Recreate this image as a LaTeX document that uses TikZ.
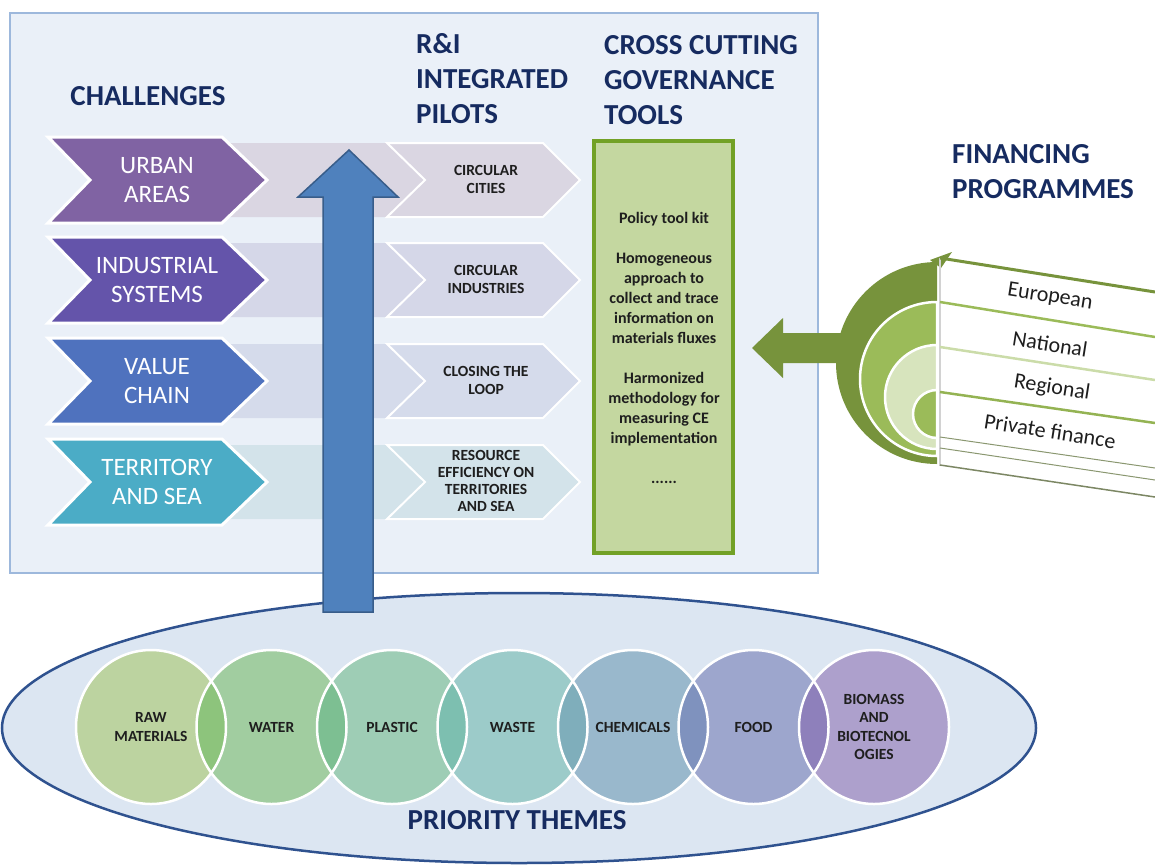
\documentclass[tikz,border=0pt]{standalone}
\usepackage{fontspec}
\setmainfont{Carlito}
\usepackage{xcolor}
\usepackage{tikz}
\definecolor{navy}{RGB}{22,43,96}
\definecolor{boxfill}{RGB}{234,240,248}
\definecolor{boxline}{RGB}{157,184,220}
\definecolor{chal1}{RGB}{128,99,163}
\definecolor{chal2}{RGB}{100,84,170}
\definecolor{chal3}{RGB}{79,114,190}
\definecolor{chal4}{RGB}{75,172,198}
\definecolor{pil1}{RGB}{218,214,226}
\definecolor{pil2}{RGB}{213,215,232}
\definecolor{pil3}{RGB}{213,219,235}
\definecolor{pil4}{RGB}{211,227,234}
\definecolor{blueup}{RGB}{79,129,189}
\definecolor{blueedge}{RGB}{56,93,138}
\definecolor{toolfill}{RGB}{196,215,160}
\definecolor{toolline}{RGB}{114,161,38}
\definecolor{findark}{RGB}{119,147,60}
\definecolor{finmid}{RGB}{155,187,89}
\definecolor{finlight}{RGB}{215,228,189}
\definecolor{themefill}{RGB}{220,230,242}
\definecolor{themeline}{RGB}{47,82,143}
\definecolor{raw}{RGB}{188,211,160}
\definecolor{water}{RGB}{161,205,160}
\definecolor{plastic}{RGB}{158,205,181}
\definecolor{waste}{RGB}{156,203,201}
\definecolor{chem}{RGB}{153,184,204}
\definecolor{food}{RGB}{157,166,205}
\definecolor{bio}{RGB}{173,160,204}
\definecolor{lensa}{RGB}{141,196,124}
\definecolor{lensb}{RGB}{125,191,146}
\definecolor{lensc}{RGB}{125,191,176}
\definecolor{lensd}{RGB}{127,174,187}
\definecolor{lense}{RGB}{127,146,190}
\definecolor{lensf}{RGB}{142,128,187}
\definecolor{darktext}{RGB}{30,30,30}
\tikzstyle{title} = [text=navy, font=\bfseries\fontsize{29}{35}\selectfont, align=left, inner sep=0pt]
\tikzstyle{chal} = [draw=white, line width=3pt, line join=miter]
\tikzstyle{pilot} = [draw=white, line width=2pt]
\tikzstyle{chaltext} = [text=white, align=center, font=\fontsize{25}{29}\selectfont]
\tikzstyle{pilottext} = [text=darktext, align=center, font=\bfseries\fontsize{15.5}{18}\selectfont]
\tikzstyle{themetext} = [text=darktext, align=center, font=\bfseries\fontsize{15.5}{18.3}\selectfont]
\tikzstyle{ring} = [draw=white, line width=2.5pt]
\tikzstyle{fintext} = [text=darktext, font=\fontsize{22}{26}\selectfont, rotate=-9, inner sep=0pt]

\begin{document}
\begin{tikzpicture}[x=1pt, y=-1pt]
\useasboundingbox (0,0) rectangle (1155,865);
\filldraw[fill=boxfill, draw=boxline, line width=2.5pt] (10,13) rectangle (818,573);

\node[title, anchor=center] (chall) at (148,96) {CHALLENGES};
\node[title, anchor=west] (ri) at (416,79) {R\&I\\INTEGRATED\\PILOTS};
\node[title, anchor=west] (cross) at (604,80) {CROSS CUTTING\\GOVERNANCE\\TOOLS};
\node[title, anchor=west] (financing) at (952,172) {FINANCING\\PROGRAMMES};

\fill[pil1] (200,143) -- (390,143) -- (427,180) -- (390,217) -- (200,217) -- (237,180) -- cycle;
\filldraw[pilot, fill=pil1] (387,143) -- (543,143) -- (580,180) -- (543,217) -- (387,217) -- (425,180) -- cycle;
\filldraw[chal, fill=chal1] (48,137) -- (222,137) -- (267,180) -- (222,223) -- (48,223) -- (90,180) -- cycle;
\node[chaltext] (urban) at (157,180) {URBAN\\AREAS};
\node[pilottext] (cities) at (486,179) {CIRCULAR\\CITIES};

\fill[pil2] (200,243) -- (390,243) -- (427,280) -- (390,317) -- (200,317) -- (237,280) -- cycle;
\filldraw[pilot, fill=pil2] (387,243) -- (543,243) -- (580,280) -- (543,317) -- (387,317) -- (425,280) -- cycle;
\filldraw[chal, fill=chal2] (48,237) -- (222,237) -- (267,280) -- (222,323) -- (48,323) -- (90,280) -- cycle;
\node[chaltext] (industrial) at (157,280) {INDUSTRIAL\\SYSTEMS};
\node[pilottext] (industries) at (486,279) {CIRCULAR\\INDUSTRIES};

\fill[pil3] (200,344) -- (390,344) -- (427,381) -- (390,418) -- (200,418) -- (237,381) -- cycle;
\filldraw[pilot, fill=pil3] (387,344) -- (543,344) -- (580,381) -- (543,418) -- (387,418) -- (425,381) -- cycle;
\filldraw[chal, fill=chal3] (48,338) -- (222,338) -- (267,381) -- (222,424) -- (48,424) -- (90,381) -- cycle;
\node[chaltext] (value) at (157,381) {VALUE\\CHAIN};
\node[pilottext] (loop) at (486,380) {CLOSING THE\\LOOP};

\fill[pil4] (200,445) -- (390,445) -- (427,482) -- (390,519) -- (200,519) -- (237,482) -- cycle;
\filldraw[pilot, fill=pil4] (387,445) -- (543,445) -- (580,482) -- (543,519) -- (387,519) -- (425,482) -- cycle;
\filldraw[chal, fill=chal4] (48,439) -- (222,439) -- (267,482) -- (222,525) -- (48,525) -- (90,482) -- cycle;
\node[chaltext] (territory) at (157,482) {TERRITORY\\AND SEA};
\node[pilottext, font=\bfseries\fontsize{15.5}{17}\selectfont] (efficiency) at (486,481) {RESOURCE\\EFFICIENCY ON\\TERRITORIES\\AND SEA};

\filldraw[fill=toolfill, draw=toolline, line width=3.5pt] (594,141) rectangle (733,553);
\node[text=darktext, align=center, font=\bfseries\fontsize{16}{20}\selectfont] (tools) at (664,348)
  {Policy tool kit\\[20pt]Homogeneous\\approach to\\collect and trace\\information on\\materials fluxes\\[20pt]Harmonized\\methodology for\\measuring CE\\implementation\\[20pt]......};

\filldraw[fill=themefill, draw=themeline, line width=2.5pt] (519,728) ellipse [x radius=517pt, y radius=135pt];

\filldraw[fill=blueup, draw=blueedge, line width=1.5pt] (323,612) -- (323,197) -- (298,197) -- (349,150) -- (398,197) -- (373,197) -- (373,612) -- cycle;

\fill[raw] (151,727) ellipse [x radius=75pt, y radius=77pt];
\fill[water] (271.5,727) ellipse [x radius=75pt, y radius=77pt];
\fill[plastic] (392,727) ellipse [x radius=75pt, y radius=77pt];
\fill[waste] (512.5,727) ellipse [x radius=75pt, y radius=77pt];
\fill[chem] (633,727) ellipse [x radius=75pt, y radius=77pt];
\fill[food] (753.5,727) ellipse [x radius=75pt, y radius=77pt];
\fill[bio] (874,727) ellipse [x radius=75pt, y radius=77pt];
\begin{scope}
\clip (151,727) ellipse [x radius=75pt, y radius=77pt];
\fill[lensa] (271.5,727) ellipse [x radius=75pt, y radius=77pt];
\end{scope}
\begin{scope}
\clip (271.5,727) ellipse [x radius=75pt, y radius=77pt];
\fill[lensb] (392,727) ellipse [x radius=75pt, y radius=77pt];
\end{scope}
\begin{scope}
\clip (392,727) ellipse [x radius=75pt, y radius=77pt];
\fill[lensc] (512.5,727) ellipse [x radius=75pt, y radius=77pt];
\end{scope}
\begin{scope}
\clip (512.5,727) ellipse [x radius=75pt, y radius=77pt];
\fill[lensd] (633,727) ellipse [x radius=75pt, y radius=77pt];
\end{scope}
\begin{scope}
\clip (633,727) ellipse [x radius=75pt, y radius=77pt];
\fill[lense] (753.5,727) ellipse [x radius=75pt, y radius=77pt];
\end{scope}
\begin{scope}
\clip (753.5,727) ellipse [x radius=75pt, y radius=77pt];
\fill[lensf] (874,727) ellipse [x radius=75pt, y radius=77pt];
\end{scope}
\draw[white, line width=2.5pt] (151,727) ellipse [x radius=75pt, y radius=77pt]
  (271.5,727) ellipse [x radius=75pt, y radius=77pt]
  (392,727) ellipse [x radius=75pt, y radius=77pt]
  (512.5,727) ellipse [x radius=75pt, y radius=77pt]
  (633,727) ellipse [x radius=75pt, y radius=77pt]
  (753.5,727) ellipse [x radius=75pt, y radius=77pt]
  (874,727) ellipse [x radius=75pt, y radius=77pt];
\node[themetext] (rawmat) at (151,727) {RAW\\MATERIALS};
\node[themetext] (watr) at (271.5,727) {WATER};
\node[themetext] (plast) at (392,727) {PLASTIC};
\node[themetext] (wst) at (512.5,727) {WASTE};
\node[themetext] (chemicals) at (633,727) {CHEMICALS};
\node[themetext] (fd) at (753.5,727) {FOOD};
\node[themetext] (biomass) at (874,727) {BIOMASS\\AND\\BIOTECNOL\\OGIES};
\node[title, anchor=center] (prio) at (517,820) {PRIORITY THEMES};

\fill[findark] (845,333) -- (783,333) -- (783,318) -- (752,348) -- (783,378) -- (783,363) -- (845,363) -- cycle;
\fill[findark] (937,262) arc[start angle=90, end angle=270, radius=101pt] -- cycle;
\fill[findark] (930,260) -- (952,252) -- (941,268) -- cycle;
\filldraw[ring, fill=finmid] (937,302) arc[start angle=90, end angle=270, radius=77pt] -- cycle;
\filldraw[ring, fill=finlight] (937,345) arc[start angle=90, end angle=270, radius=52pt] -- cycle;
\filldraw[ring, fill=finmid] (937,390) arc[start angle=90, end angle=270, radius=24pt] -- cycle;
\draw[gray!35, line width=1.5pt] (940,258) -- (940,466);
\draw[findark, line width=3pt] (940,258) -- (1155,292);
\draw[finmid, line width=2.5pt] (940,302) -- (1155,337);
\draw[finlight!80!finmid, line width=2.5pt] (940,347) -- (1155,380);
\draw[finmid!80!findark, line width=2.5pt] (940,392) -- (1155,423);
\draw[gray!60!finmid, line width=1pt] (940,437) -- (1155,468);
\draw[gray!60!finmid, line width=1pt] (940,448) -- (1155,480);
\draw[gray!60!findark, line width=1.5pt] (940,465) -- (1155,497);
\node[fintext] (european) at (1050,297) {European};
\node[fintext] (national) at (1050,344) {National};
\node[fintext] (regional) at (1052,388) {Regional};
\node[fintext] (private) at (1050,431) {Private finance};
\end{tikzpicture}
\end{document}
